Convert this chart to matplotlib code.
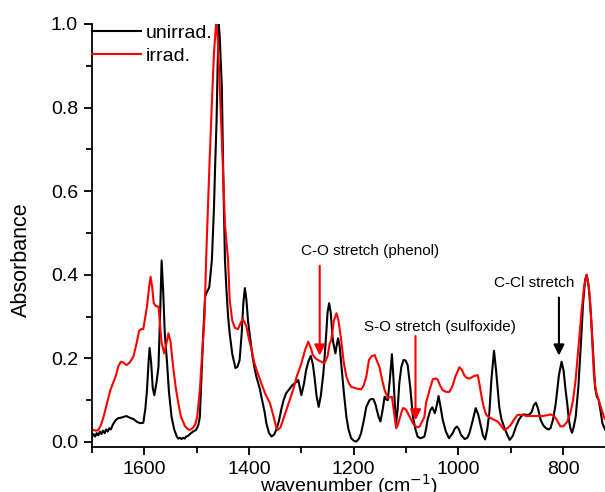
import numpy as np
import matplotlib
matplotlib.use('Agg')
import matplotlib.pyplot as plt
from matplotlib.ticker import MultipleLocator

plt.rcParams['font.family'] = ['Liberation Sans', 'DejaVu Sans']

# espectro sin irradiar (wavenumber, absorbance)
wn_unirrad = [1700, 1697, 1694, 1691, 1688, 1685, 1682, 1679, 1676, 1673, 1670, 1667, 1664,
              1660, 1655, 1650, 1645, 1640, 1634, 1628, 1621, 1614, 1608, 1602, 1598, 1595,
              1592, 1590, 1587, 1584, 1581, 1577, 1573, 1570, 1567, 1564, 1561, 1557, 1553,
              1548, 1543, 1538, 1535, 1532, 1529, 1526, 1523, 1520, 1516, 1513, 1507, 1501,
              1497, 1494, 1491, 1488, 1484, 1480, 1476, 1471, 1467, 1465, 1462, 1460, 1458,
              1456, 1452, 1449, 1446, 1443, 1440, 1437, 1432, 1426, 1422, 1418, 1414, 1411,
              1408, 1405, 1402, 1399, 1394, 1390, 1386, 1380, 1375, 1370, 1367, 1362, 1357,
              1352, 1348, 1343, 1338, 1334, 1329, 1322, 1318, 1313, 1306, 1303, 1300, 1295,
              1291, 1286, 1282, 1278, 1275, 1271, 1267, 1263, 1258, 1253, 1250, 1247, 1244,
              1240, 1235, 1232, 1230, 1227, 1224, 1219, 1214, 1210, 1205, 1200, 1195, 1190,
              1186, 1181, 1176, 1170, 1166, 1162, 1158, 1156, 1152, 1149, 1145, 1141, 1138,
              1135, 1131, 1127, 1124, 1121, 1119, 1116, 1113, 1109, 1105, 1101, 1097, 1092,
              1087, 1082, 1078, 1073, 1068, 1065, 1062, 1059, 1054, 1050, 1045, 1041, 1038,
              1035, 1030, 1024, 1018, 1011, 1007, 1003, 999, 995, 988, 983, 979, 973, 967,
              962, 957, 953, 949, 945, 941, 937, 932, 928, 922, 918, 913, 907, 902, 896, 890,
              885, 881, 876, 871, 865, 860, 856, 852, 848, 843, 838, 833, 828, 824, 819, 814,
              808, 803, 799, 796, 792, 789, 786, 783, 780, 776, 771, 766, 762, 758, 755, 751,
              747, 743, 739, 736, 732, 728, 725, 720]
abs_unirrad = [0.012, 0.019, 0.013, 0.021, 0.016, 0.025, 0.019, 0.027, 0.021, 0.030, 0.025, 0.033, 0.030,
               0.042, 0.052, 0.057, 0.058, 0.060, 0.062, 0.058, 0.055, 0.048, 0.045, 0.046, 0.080, 0.124,
               0.190, 0.225, 0.190, 0.130, 0.112, 0.140, 0.180, 0.300, 0.434, 0.360, 0.260, 0.196, 0.120,
               0.060, 0.030, 0.013, 0.008, 0.010, 0.007, 0.010, 0.008, 0.013, 0.015, 0.019, 0.025, 0.029,
               0.040, 0.060, 0.150, 0.244, 0.348, 0.360, 0.370, 0.435, 0.560, 0.650, 0.770, 0.900, 1.000,
               0.970, 0.850, 0.620, 0.435, 0.360, 0.300, 0.260, 0.210, 0.177, 0.180, 0.196, 0.260, 0.330,
               0.368, 0.340, 0.290, 0.260, 0.210, 0.180, 0.156, 0.130, 0.100, 0.070, 0.045, 0.022, 0.013,
               0.018, 0.029, 0.050, 0.080, 0.100, 0.117, 0.128, 0.135, 0.140, 0.148, 0.130, 0.112, 0.140,
               0.172, 0.195, 0.206, 0.185, 0.156, 0.110, 0.084, 0.110, 0.164, 0.250, 0.310, 0.332, 0.310,
               0.244, 0.212, 0.235, 0.248, 0.230, 0.188, 0.120, 0.060, 0.030, 0.009, 0.003, 0.001, 0.008,
               0.021, 0.050, 0.084, 0.100, 0.103, 0.102, 0.088, 0.077, 0.058, 0.049, 0.075, 0.108, 0.102,
               0.100, 0.150, 0.210, 0.150, 0.080, 0.045, 0.080, 0.140, 0.180, 0.196, 0.195, 0.184, 0.130,
               0.060, 0.030, 0.013, 0.009, 0.011, 0.013, 0.030, 0.053, 0.075, 0.083, 0.069, 0.090, 0.110,
               0.090, 0.053, 0.025, 0.009, 0.021, 0.032, 0.037, 0.030, 0.017, 0.007, 0.010, 0.021, 0.050, 0.081,
               0.065, 0.037, 0.015, 0.006, 0.030, 0.069, 0.150, 0.218, 0.170, 0.084, 0.055, 0.037, 0.018, 0.005, 0.015, 0.037,
               0.052, 0.060, 0.066, 0.065, 0.065, 0.072, 0.088, 0.094, 0.080, 0.053, 0.040, 0.033, 0.030, 0.033, 0.055, 0.093,
               0.160, 0.192, 0.170, 0.132, 0.090, 0.053, 0.032, 0.022, 0.035, 0.060, 0.130, 0.236, 0.330, 0.388, 0.400, 0.370,
               0.308, 0.220, 0.132, 0.110, 0.100, 0.070, 0.045, 0.030]

# espectro irradiado
wn_irrad = [1700, 1696, 1692, 1688, 1683, 1678, 1672, 1665, 1660, 1654, 1650, 1645, 1640, 1634,
            1628, 1621, 1615, 1610, 1606, 1602, 1598, 1595, 1591, 1588, 1585, 1582, 1578, 1573,
            1570, 1567, 1562, 1558, 1554, 1550, 1545, 1540, 1535, 1530, 1522, 1516, 1513, 1508,
            1503, 1499, 1494, 1489, 1485, 1482, 1476, 1471, 1467, 1463, 1460, 1456, 1450, 1446,
            1440, 1437, 1432, 1427, 1421, 1416, 1412, 1408, 1405, 1400, 1395, 1390, 1385, 1380,
            1375, 1369, 1360, 1353, 1348, 1345, 1340, 1335, 1325, 1316, 1308, 1300, 1293, 1287,
            1282, 1278, 1273, 1268, 1262, 1256, 1250, 1246, 1243, 1238, 1233, 1229, 1224, 1219,
            1214, 1209, 1205, 1195, 1186, 1181, 1176, 1171, 1166, 1160, 1156, 1151, 1146, 1141,
            1135, 1131, 1127, 1123, 1119, 1116, 1113, 1109, 1106, 1103, 1100, 1093, 1087, 1082,
            1078, 1074, 1069, 1065, 1062, 1055, 1049, 1044, 1040, 1035, 1030, 1024, 1017, 1011,
            1006, 998, 993, 989, 984, 979, 974, 970, 963, 960, 957, 952, 947, 942, 938, 930,
            925, 919, 913, 906, 900, 893, 887, 878, 869, 859, 850, 840, 830, 824, 819, 814, 810,
            805, 799, 792, 786, 781, 776, 770, 765, 760, 755, 752, 749, 745, 741, 737, 732, 727,
            722, 720]
abs_irrad = [0.030, 0.028, 0.027, 0.029, 0.040, 0.060, 0.090, 0.124, 0.140, 0.160, 0.180, 0.192, 0.190, 0.184,
             0.190, 0.204, 0.235, 0.266, 0.270, 0.270, 0.300, 0.324, 0.370, 0.395, 0.370, 0.332, 0.325, 0.324,
             0.280, 0.237, 0.212, 0.235, 0.260, 0.240, 0.180, 0.130, 0.092, 0.060, 0.037, 0.030, 0.029, 0.033,
             0.041, 0.060, 0.124, 0.220, 0.300, 0.435, 0.650, 0.810, 0.930, 1.000, 0.970, 0.850, 0.660, 0.520,
             0.435, 0.340, 0.290, 0.273, 0.270, 0.285, 0.294, 0.285, 0.276, 0.245, 0.220, 0.190, 0.170, 0.153,
             0.135, 0.115, 0.093, 0.060, 0.035, 0.029, 0.035, 0.053, 0.090, 0.124, 0.160, 0.188, 0.220, 0.240,
             0.225, 0.208, 0.200, 0.196, 0.192, 0.188, 0.205, 0.235, 0.244, 0.290, 0.308, 0.290, 0.244, 0.190,
             0.156, 0.140, 0.132, 0.128, 0.126, 0.135, 0.156, 0.196, 0.205, 0.208, 0.195, 0.180, 0.150, 0.124,
             0.105, 0.107, 0.108, 0.070, 0.033, 0.040, 0.053, 0.070, 0.081, 0.080, 0.077, 0.060, 0.045, 0.038,
             0.035, 0.037, 0.050, 0.060, 0.093, 0.125, 0.150, 0.152, 0.150, 0.135, 0.124, 0.120, 0.120, 0.135,
             0.156, 0.179, 0.172, 0.160, 0.153, 0.152, 0.155, 0.158, 0.160, 0.140, 0.117, 0.085, 0.065, 0.060, 0.057, 0.052,
             0.049, 0.040, 0.029, 0.033, 0.041, 0.055, 0.065, 0.065, 0.062, 0.062, 0.062, 0.062, 0.064, 0.066, 0.063, 0.057, 0.048,
             0.037, 0.038, 0.049, 0.070, 0.100, 0.150, 0.236, 0.310, 0.372, 0.400, 0.380, 0.348, 0.260, 0.156, 0.120, 0.100, 0.080,
             0.060, 0.055]

fig = plt.figure(figsize=(6.05, 4.92), dpi=100)
ax = fig.add_axes([92 / 605, 45 / 492, 513 / 605, 423 / 492])

ax.plot(wn_unirrad, abs_unirrad, color='black', lw=1.5, label='unirrad.')
ax.plot(wn_irrad, abs_irrad, color='red', lw=1.5, label='irrad.')

ax.set_xlim(1700, 720)
ax.set_ylim(-0.012, 1.0)

ax.spines['top'].set_visible(False)
ax.spines['right'].set_visible(False)
ax.spines['left'].set_linewidth(1.3)
ax.spines['bottom'].set_linewidth(1.3)

ax.xaxis.set_major_locator(MultipleLocator(200))
ax.xaxis.set_minor_locator(MultipleLocator(100))
ax.yaxis.set_major_locator(MultipleLocator(0.2))
ax.yaxis.set_minor_locator(MultipleLocator(0.1))
ax.tick_params(which='major', direction='out', length=6, width=1.3, labelsize=14, pad=4)
ax.tick_params(which='minor', direction='out', length=4, width=1.3)
ax.yaxis.set_major_formatter(plt.FuncFormatter(lambda v, p: f'{v:.1f}'))

ax.set_ylabel('Absorbance', fontsize=15.5)
ax.yaxis.set_label_coords(-0.118, 0.442)
ax.set_xlabel('wavenumber (cm$^{-1}$)', fontsize=14)
ax.xaxis.set_label_coords(0.5, -0.06)

ax.legend(loc='upper left', frameon=False, fontsize=14, borderaxespad=0, borderpad=0,
          handlelength=2.5, handletextpad=0.25, labelspacing=0.3)

# anotaciones
ax.text(1168, 0.457, 'C-O stretch (phenol)', fontsize=11, ha='center', va='center')
ax.annotate('', xy=(1265, 0.20), xytext=(1265, 0.428),
            arrowprops=dict(arrowstyle='-|>', color='red', lw=1.5, mutation_scale=16))
ax.text(1035, 0.276, 'S-O stretch (sulfoxide)', fontsize=11, ha='center', va='center')
ax.annotate('', xy=(1082, 0.045), xytext=(1082, 0.26),
            arrowprops=dict(arrowstyle='-|>', color='red', lw=1.5, mutation_scale=16))
ax.text(856, 0.38, 'C-Cl stretch', fontsize=11, ha='center', va='center')
ax.annotate('', xy=(808, 0.20), xytext=(808, 0.352),
            arrowprops=dict(arrowstyle='-|>', color='black', lw=1.5, mutation_scale=16))

fig.savefig('out.png', dpi=100)
